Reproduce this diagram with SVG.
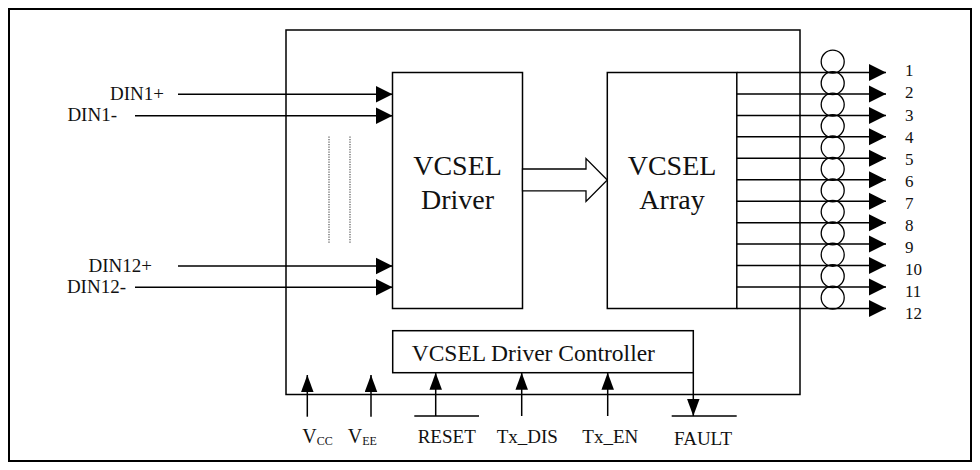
<svg xmlns="http://www.w3.org/2000/svg" width="980" height="470" viewBox="0 0 980 470">
<style>
.box{fill:none;stroke:#000;stroke-width:1.5}
.wire{fill:none;stroke:#000;stroke-width:1.5}
.t{font-family:"Liberation Serif","Times New Roman",serif;fill:#111}
.s19{font-size:19px}
.big{font-size:28px;text-anchor:middle}
.num{font-size:17px}
.dot{stroke:#555;stroke-width:1.2;stroke-dasharray:1.2 1.3;fill:none}
.ring{fill:none;stroke:#000;stroke-width:1.3}
</style>
<defs>
<marker id="ah" markerUnits="userSpaceOnUse" markerWidth="18" markerHeight="18" refX="17" refY="8.5" orient="auto" viewBox="0 0 18 17">
<path d="M0,0 L17,8.5 L0,17 z" fill="#000"/>
</marker>
<marker id="av" markerUnits="userSpaceOnUse" markerWidth="18" markerHeight="13" refX="17" refY="6.25" orient="auto" viewBox="0 0 18 12.5">
<path d="M0,0 L17,6.25 L0,12.5 z" fill="#000"/>
</marker>
</defs>
<rect id="frame" x="9" y="9" width="962" height="452" fill="none" stroke="#000" stroke-width="2"/>
<g id="module"><rect class="box" x="286" y="30" width="514" height="364.5"/></g>
<g id="driver">
<rect class="box" x="392.5" y="72.5" width="130" height="236"/>
<text class="t big" x="457.5" y="175">VCSEL</text>
<text class="t big" x="457.5" y="209">Driver</text>
</g>
<g id="array">
<rect class="box" x="607.3" y="72.5" width="129.5" height="236"/>
<text class="t big" x="672" y="175">VCSEL</text>
<text class="t big" x="672" y="209">Array</text>
</g>
<g id="controller">
<rect class="box" x="392.7" y="330.7" width="300.6" height="42"/>
<text class="t" x="411.7" y="361" font-size="23.5">VCSEL Driver Controller</text>
</g>
<g id="fibers">
<circle class="ring" cx="832.7" cy="61.7" r="11.5"/>
<circle class="ring" cx="832.7" cy="83.15" r="11.5"/>
<circle class="ring" cx="832.7" cy="104.6" r="11.5"/>
<circle class="ring" cx="832.7" cy="126.05" r="11.5"/>
<circle class="ring" cx="832.7" cy="147.5" r="11.5"/>
<circle class="ring" cx="832.7" cy="168.95" r="11.5"/>
<circle class="ring" cx="832.7" cy="190.4" r="11.5"/>
<circle class="ring" cx="832.7" cy="211.85" r="11.5"/>
<circle class="ring" cx="832.7" cy="233.3" r="11.5"/>
<circle class="ring" cx="832.7" cy="254.75" r="11.5"/>
<circle class="ring" cx="832.7" cy="276.2" r="11.5"/>
<circle class="ring" cx="832.7" cy="297.65" r="11.5"/>
</g>
<g id="dots">
<line class="dot" x1="329" y1="136.5" x2="329" y2="244"/>
<line class="dot" x1="350" y1="136.5" x2="350" y2="244"/>
</g>
<g id="connectors">
<line class="wire" x1="178" y1="94.3" x2="392.5" y2="94.3" marker-end="url(#ah)"/>
<line class="wire" x1="135" y1="115.7" x2="392.5" y2="115.7" marker-end="url(#ah)"/>
<line class="wire" x1="178" y1="266" x2="392.5" y2="266" marker-end="url(#ah)"/>
<line class="wire" x1="135" y1="287.3" x2="392.5" y2="287.3" marker-end="url(#ah)"/>
<polygon points="522.5,169 586,169 586,158.5 607.3,180 586,201.5 586,190.8 522.5,190.8" fill="#fff" stroke="#000" stroke-width="1.3"/>
<line class="wire" x1="736.8" y1="72.5" x2="886" y2="72.5" marker-end="url(#ah)"/>
<line class="wire" x1="736.8" y1="93.95" x2="886" y2="93.95" marker-end="url(#ah)"/>
<line class="wire" x1="736.8" y1="115.4" x2="886" y2="115.4" marker-end="url(#ah)"/>
<line class="wire" x1="736.8" y1="136.85" x2="886" y2="136.85" marker-end="url(#ah)"/>
<line class="wire" x1="736.8" y1="158.3" x2="886" y2="158.3" marker-end="url(#ah)"/>
<line class="wire" x1="736.8" y1="179.75" x2="886" y2="179.75" marker-end="url(#ah)"/>
<line class="wire" x1="736.8" y1="201.2" x2="886" y2="201.2" marker-end="url(#ah)"/>
<line class="wire" x1="736.8" y1="222.65" x2="886" y2="222.65" marker-end="url(#ah)"/>
<line class="wire" x1="736.8" y1="244.1" x2="886" y2="244.1" marker-end="url(#ah)"/>
<line class="wire" x1="736.8" y1="265.55" x2="886" y2="265.55" marker-end="url(#ah)"/>
<line class="wire" x1="736.8" y1="287" x2="886" y2="287" marker-end="url(#ah)"/>
<line class="wire" x1="736.8" y1="308.45" x2="886" y2="308.45" marker-end="url(#ah)"/>
<line class="wire" x1="307.3" y1="416.7" x2="307.3" y2="375" marker-end="url(#av)"/>
<line class="wire" x1="371" y1="416.7" x2="371" y2="375" marker-end="url(#av)"/>
<line class="wire" x1="435.7" y1="416" x2="435.7" y2="372.7" marker-end="url(#av)"/>
<line class="wire" x1="414.3" y1="416" x2="479" y2="416"/>
<line class="wire" x1="521.7" y1="416" x2="521.7" y2="372.7" marker-end="url(#av)"/>
<line class="wire" x1="607.7" y1="416" x2="607.7" y2="372.7" marker-end="url(#av)"/>
<line class="wire" x1="693.3" y1="372.7" x2="693.3" y2="416" marker-end="url(#av)"/>
<line class="wire" x1="671.7" y1="416" x2="736.7" y2="416"/>
</g>
<g id="labels">
<text class="t s19" x="164" y="99.5" text-anchor="end">DIN1+</text>
<text class="t s19" x="117" y="121" text-anchor="end">DIN1-</text>
<text class="t s19" x="152" y="271.5" text-anchor="end">DIN12+</text>
<text class="t s19" x="126" y="292.5" text-anchor="end">DIN12-</text>
<text class="t" x="302.3" y="443.3" font-size="20">V<tspan font-size="12" dy="1.5">CC</tspan></text>
<text class="t" x="347.7" y="443.3" font-size="20">V<tspan font-size="12" dy="1.5">EE</tspan></text>
<text class="t s19" x="417.7" y="442.7">RESET</text>
<text class="t s19" x="496.7" y="442.7">Tx_DIS</text>
<text class="t s19" x="582.3" y="442.7">Tx_EN</text>
<text class="t s19" x="674" y="445">FAULT</text>
<text class="t num" x="905" y="76.4">1</text>
<text class="t num" x="905" y="98.45">2</text>
<text class="t num" x="905" y="120.5">3</text>
<text class="t num" x="905" y="142.55">4</text>
<text class="t num" x="905" y="164.6">5</text>
<text class="t num" x="905" y="186.65">6</text>
<text class="t num" x="905" y="208.7">7</text>
<text class="t num" x="905" y="230.75">8</text>
<text class="t num" x="905" y="252.8">9</text>
<text class="t num" x="905" y="274.85">10</text>
<text class="t num" x="905" y="296.9">11</text>
<text class="t num" x="905" y="318.95">12</text>
</g>
</svg>
